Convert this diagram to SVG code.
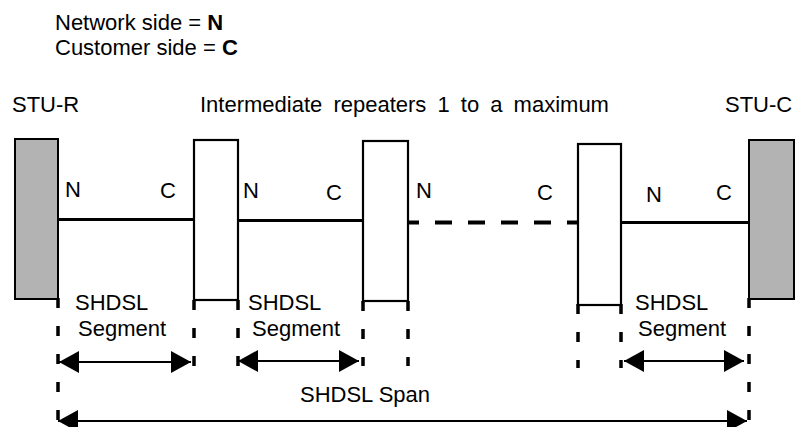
<svg xmlns="http://www.w3.org/2000/svg" width="798" height="427" viewBox="0 0 798 427">
<style>
text{font-family:"Liberation Sans",Arial,Helvetica,sans-serif;font-size:22px;fill:#000}
.term{fill:#b3b3b3;stroke:#000;stroke-width:2}
.rep{fill:#fff;stroke:#000;stroke-width:2.2}
.link{stroke:#000;stroke-width:3;fill:none}
.dlink{stroke:#000;stroke-width:4;fill:none;stroke-dasharray:17 16;stroke-dashoffset:6}
.vd{stroke:#000;stroke-width:3.5;fill:none;stroke-dasharray:10 18}
.arr{stroke:#000;stroke-width:2;fill:none;marker-start:url(#ah);marker-end:url(#ah)}
</style>
<defs>
<marker id="ah" viewBox="0 0 20 22" refX="20" refY="11" markerWidth="20" markerHeight="22" orient="auto-start-reverse" markerUnits="userSpaceOnUse">
<path d="M0,0 L20,11 L0,22 Z" fill="#000"/>
</marker>
</defs>
<rect width="798" height="427" fill="#fff"/>
<g id="legend">
<text x="55" y="30">Network side = <tspan font-weight="bold">N</tspan></text>
<text x="55" y="55">Customer side = <tspan font-weight="bold">C</tspan></text>
</g>
<text x="12" y="112">STU-R</text>
<text x="200" y="112" word-spacing="5">Intermediate repeaters 1 to a maximum</text>
<text x="725" y="112">STU-C</text>
<g id="connectors">
<line class="link" x1="58" y1="219.5" x2="194" y2="219.5"/>
<line class="link" x1="238" y1="220.5" x2="363" y2="220.5"/>
<line class="dlink" x1="408" y1="222.5" x2="578" y2="222.5"/>
<line class="link" x1="621" y1="222.5" x2="749" y2="222.5"/>
<line class="vd" x1="58" y1="298" x2="58" y2="422"/>
<line class="vd" x1="194" y1="300" x2="194" y2="366"/>
<line class="vd" x1="238" y1="300" x2="238" y2="366"/>
<line class="vd" x1="363" y1="301" x2="363" y2="366"/>
<line class="vd" x1="408" y1="301" x2="408" y2="366"/>
<line class="vd" x1="578" y1="304" x2="578" y2="368"/>
<line class="vd" x1="621" y1="304" x2="621" y2="368"/>
<line class="vd" x1="749" y1="298" x2="749" y2="422"/>
<line class="arr" x1="59" y1="362" x2="191" y2="362"/>
<line class="arr" x1="238" y1="361" x2="359" y2="361"/>
<line class="arr" x1="624" y1="361" x2="744" y2="361"/>
<line class="arr" x1="58" y1="421" x2="747" y2="421"/>
</g>
<g id="stu-r"><rect class="term" x="15" y="139" width="43" height="160"/></g>
<g id="rep1"><rect class="rep" x="194" y="140" width="44" height="160"/></g>
<g id="rep2"><rect class="rep" x="363" y="141" width="45" height="160"/></g>
<g id="rep3"><rect class="rep" x="578" y="144" width="43" height="161"/></g>
<g id="stu-c"><rect class="term" x="749" y="140" width="45" height="159"/></g>
<g id="side-labels">
<text x="65" y="197">N</text>
<text x="160" y="198">C</text>
<text x="243" y="198">N</text>
<text x="326" y="200">C</text>
<text x="416" y="198">N</text>
<text x="537" y="200">C</text>
<text x="646" y="202">N</text>
<text x="716" y="200">C</text>
</g>
<g id="span-labels">
<text x="75" y="310">SHDSL</text>
<text x="78" y="336">Segment</text>
<text x="248" y="310">SHDSL</text>
<text x="252" y="336">Segment</text>
<text x="635" y="310">SHDSL</text>
<text x="638" y="336">Segment</text>
<text x="300" y="402">SHDSL Span</text>
</g>
</svg>
